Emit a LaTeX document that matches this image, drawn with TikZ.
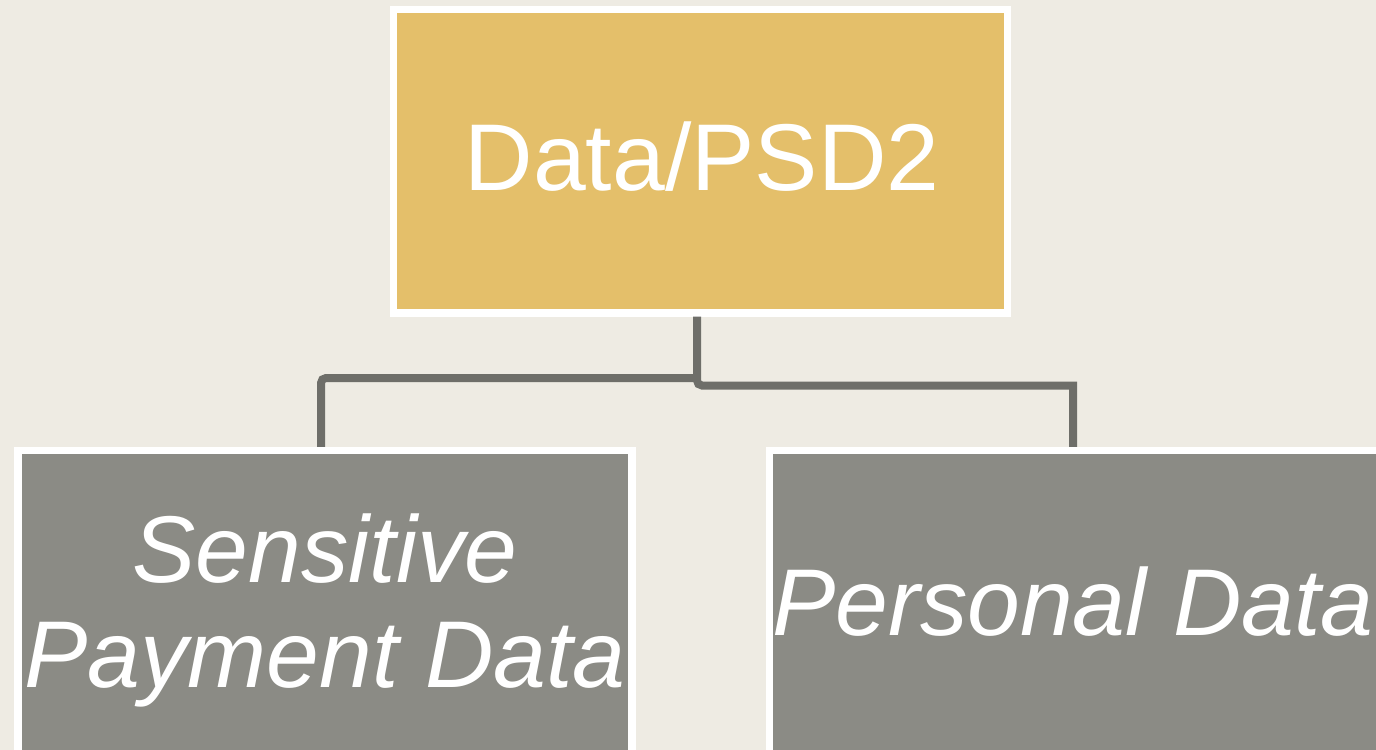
\documentclass[tikz,border=0pt]{standalone}
\usepackage{fontspec}
\setmainfont{Liberation Sans}
\definecolor{bgcream}{HTML}{EEEBE3}
\definecolor{gold}{HTML}{E4BF6A}
\definecolor{slate}{HTML}{8B8B85}
\definecolor{wire}{HTML}{6E6E69}
\tikzset{
  box/.style={draw=white, line width=0.145cm, inner sep=0pt, outer sep=0.0725cm,
              minimum width=614*0.02cm},
  rootbox/.style={box, fill=gold, minimum height=303.5*0.02cm},
  leafbox/.style={box, fill=slate, minimum height=330*0.02cm},
  label/.style={text=white, inner sep=0pt, outer sep=0pt,
                font=\fontsize{54}{59.8}\selectfont},
  leaflabel/.style={label, font=\fontsize{54}{59.8}\selectfont\itshape, align=center},
  wireline/.style={draw=wire, line width=0.16cm, line join=miter}
}
\begin{document}
\begin{tikzpicture}[x=0.02cm, y=-0.02cm]
  \useasboundingbox (0,0) rectangle (1376,750);
  \clip (0,0) rectangle (1376,750);
  \fill[bgcream] (0,0) rectangle (1376,750);

  % boxes
  \node[rootbox] (root) at (700.5,161.25) {};
  \node[leafbox] (spd) at (325,615.5) {};
  \node[leafbox] (pd) at (1076.5,615.5) {};

  % texts
  \node[label, anchor=base] (roottxt) at (702,191) {Data/PSD2};
  \node[leaflabel, anchor=center] (spdtxt) at (325,610) {Sensitive\\Payment Data};
  \node[leaflabel, anchor=base] (pdtxt) at (1073,635) {Personal Data};

  % connectors
  \coordinate (hub) at (697,378);
  \coordinate (hubr) at (697,385.5);
  \coordinate (elbowl) at (321,378);
  \coordinate (elbowr) at (1073,385.5);
  \draw[wireline, rounded corners=0.1cm] (hub) -- (elbowl) -- (elbowl |- spd.north);
  \draw[wireline] (root.south -| hubr) [rounded corners=0.1cm] -- (hubr)
       [sharp corners] -- (elbowr) -- (elbowr |- pd.north);
\end{tikzpicture}
\end{document}
